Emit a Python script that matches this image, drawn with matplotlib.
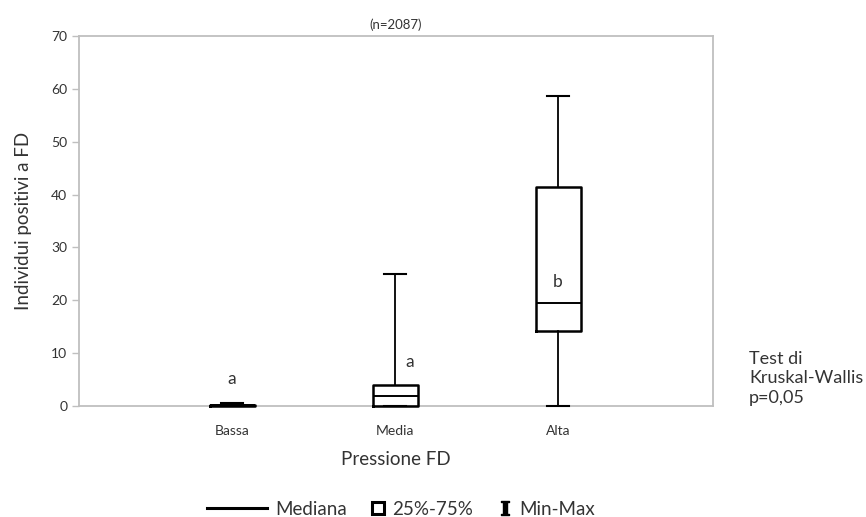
import matplotlib.pyplot as plt
from matplotlib.lines import Line2D

plt.rcParams['font.family'] = ['Lato', 'DejaVu Sans']
plt.rcParams['mathtext.fontset'] = 'dejavuserif'

# == data ==
categorie = ["Bassa", "Media", "Alta"]
minimi    = [0.0, 0.0, 0.0]
q1        = [0.0, 0.0, 14.2]
mediane   = [0.1, 1.9, 19.5]
q3        = [0.2, 3.9, 41.4]
massimi   = [0.6, 25.0, 58.6]
lettere   = ["a", "a", "b"]
lettere_y = [5.1, 8.3, 23.5]
# ==========

grigio = "#bfbfbf"
testo = "#333333"

fig = plt.figure(figsize=(8.66, 5.17), dpi=100)
ax = fig.add_axes([0.0912, 0.2147, 0.7320, 0.7156])

stats = []
for i in range(len(categorie)):
    stats.append({"whislo": minimi[i], "q1": q1[i], "med": mediane[i],
                  "q3": q3[i], "whishi": massimi[i], "label": categorie[i]})

pos = [1, 2, 3]
parts = ax.bxp(stats, positions=pos, widths=0.276, showfliers=False,
               boxprops=dict(color="black", linewidth=1.8),
               medianprops=dict(color="black", linewidth=1.4),
               whiskerprops=dict(color="black", linewidth=1.3),
               capprops=dict(color="black", linewidth=1.5),
               capwidths=0.14, zorder=3)
for k in parts:
    for art in parts[k]:
        art.set_clip_on(False)

offs = [0.0, 0.09, 0.0]
for i in range(len(categorie)):
    ax.text(pos[i] + offs[i], lettere_y[i], lettere[i], ha="center", va="center",
            fontsize=12.5, color=testo)

ax.set_xlim(0.061, 3.95)
ax.set_ylim(0, 70)
ax.set_yticks(range(0, 71, 10))
ax.set_xticks(pos)
ax.set_xticklabels(categorie)
ax.tick_params(axis="y", colors=grigio, labelcolor=testo, labelsize=10, length=5, width=1)
ax.tick_params(axis="x", length=0, labelsize=10, labelcolor=testo, pad=14)
for s in ax.spines.values():
    s.set_color(grigio)
    s.set_linewidth(1.3)

ax.set_xlabel("Pressione FD", fontsize=13.5, color=testo, labelpad=10)
ax.set_ylabel("Individui positivi a FD", fontsize=13.5, color=testo, labelpad=14)
ax.set_title("(n=2087)", fontsize=9.5, color=testo, pad=5)

fig.text(0.865, 0.268, "Test di\nKruskal-Wallis\np=0,05", fontsize=13,
         color=testo, ha="left", va="center", linespacing=1.3)

# legenda: linea lunga a parte, marcatori corti a parte
leg1 = fig.legend([Line2D([], [], color="black", linewidth=2.2)], ["Mediana"],
                  loc="center left", bbox_to_anchor=(0.239, 0.015), frameon=False,
                  fontsize=13.5, handlelength=3.2, handletextpad=0.45,
                  borderpad=0, borderaxespad=0, labelcolor=testo)
handles = [Line2D([], [], color="black", marker="s", markersize=8.5,
                  markerfacecolor="white", markeredgewidth=2.2, linestyle="none"),
           Line2D([], [], color="black", marker="$\\mathbf{I}$", markersize=10,
                  linestyle="none")]
fig.legend(handles, ["25%-75%", "Min-Max"], loc="center left",
           bbox_to_anchor=(0.426, 0.015), ncol=2, frameon=False, fontsize=13.5,
           handlelength=1.0, handletextpad=0.25, columnspacing=1.2,
           borderpad=0, borderaxespad=0, labelcolor=testo)

fig.savefig("out.png", dpi=100)
